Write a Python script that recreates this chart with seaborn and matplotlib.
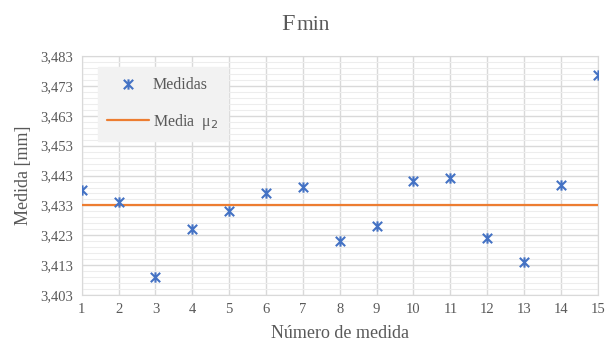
import numpy as np
import pandas as pd
import seaborn as sns
import matplotlib.pyplot as plt
from matplotlib.path import Path
from matplotlib.ticker import FuncFormatter

# data
medida_num = list(range(1, 16))
medidas = [3.4381, 3.4341, 3.4090, 3.4251, 3.4311, 3.4371, 3.4392, 3.4211,
           3.4261, 3.4412, 3.4422, 3.4221, 3.4140, 3.4398, 3.4765]
media_mu2 = 3.4332
y_ticks = [3.403, 3.413, 3.423, 3.433, 3.443, 3.453, 3.463, 3.473, 3.483]

sns.set_style("white")
plt.rcParams['font.family'] = ['Liberation Serif', 'DejaVu Serif']

df = pd.DataFrame({"n": medida_num, "medida": medidas})
df_media = pd.DataFrame({"n": [1, 15], "media": [media_mu2, media_mu2]})

# excel style star: x with a vertical bar
star = Path([(-1, -1), (1, 1), (-1, 1), (1, -1), (0, -1.1), (0, 1.1)],
            [Path.MOVETO, Path.LINETO, Path.MOVETO, Path.LINETO, Path.MOVETO, Path.LINETO])

fig = plt.figure(figsize=(6.1, 3.48), dpi=100)
ax = fig.add_axes([0.134, 0.152, 0.846, 0.687])

sns.lineplot(data=df_media, x="n", y="media", ax=ax, color="#ED7D31",
             linewidth=1.6, label="Media  μ$_2$", zorder=3)
sns.scatterplot(data=df, x="n", y="medida", ax=ax, marker=star, s=55,
                color="#4472C4", edgecolor="#4472C4", linewidth=1.5,
                label="Medidas", zorder=4)

ax.set_xlim(1, 15)
ax.set_ylim(3.403, 3.483)
ax.set_xticks(medida_num)
ax.set_yticks(y_ticks)
ax.set_yticks(np.arange(3.403, 3.4831, 0.002), minor=True)
ax.yaxis.set_major_formatter(FuncFormatter(lambda v, p: f"{v:.3f}".replace(".", ",")))

ax.grid(True, which="major", color="#D9D9D9", linewidth=1.0, zorder=0)
ax.grid(True, which="minor", axis="y", color="#EDEDED", linewidth=0.8, zorder=0)
ax.set_axisbelow(True)
for s in ax.spines.values():
    s.set_color("#D9D9D9")
ax.tick_params(axis="both", which="both", length=0, labelsize=10.5,
               labelcolor="#595959", pad=6)

ax.set_xlabel("Número de medida", fontsize=13, color="#595959", labelpad=6)
ax.set_ylabel("Medida [mm]", fontsize=13, color="#595959", labelpad=6)

h, l = ax.get_legend_handles_labels()
leg = ax.legend([h[1], h[0]], [l[1], l[0]], loc="upper left",
                bbox_to_anchor=(0.031, 0.954), borderaxespad=0, fontsize=11.5,
                frameon=True, fancybox=False, handlelength=2.6, borderpad=0.6,
                labelspacing=1.2, handletextpad=0.25)
leg.get_frame().set_facecolor("#F2F2F2")
leg.get_frame().set_edgecolor("#F2F2F2")
leg.get_frame().set_alpha(1)
for t in leg.get_texts():
    t.set_color("#595959")

fig.text(0.4835, 0.915, "F", fontsize=17.5, color="#595959", ha="right", va="baseline")
fig.text(0.486, 0.915, "min", fontsize=15.5, color="#595959", ha="left", va="baseline")

fig.savefig("out.png", dpi=100, facecolor="white")
